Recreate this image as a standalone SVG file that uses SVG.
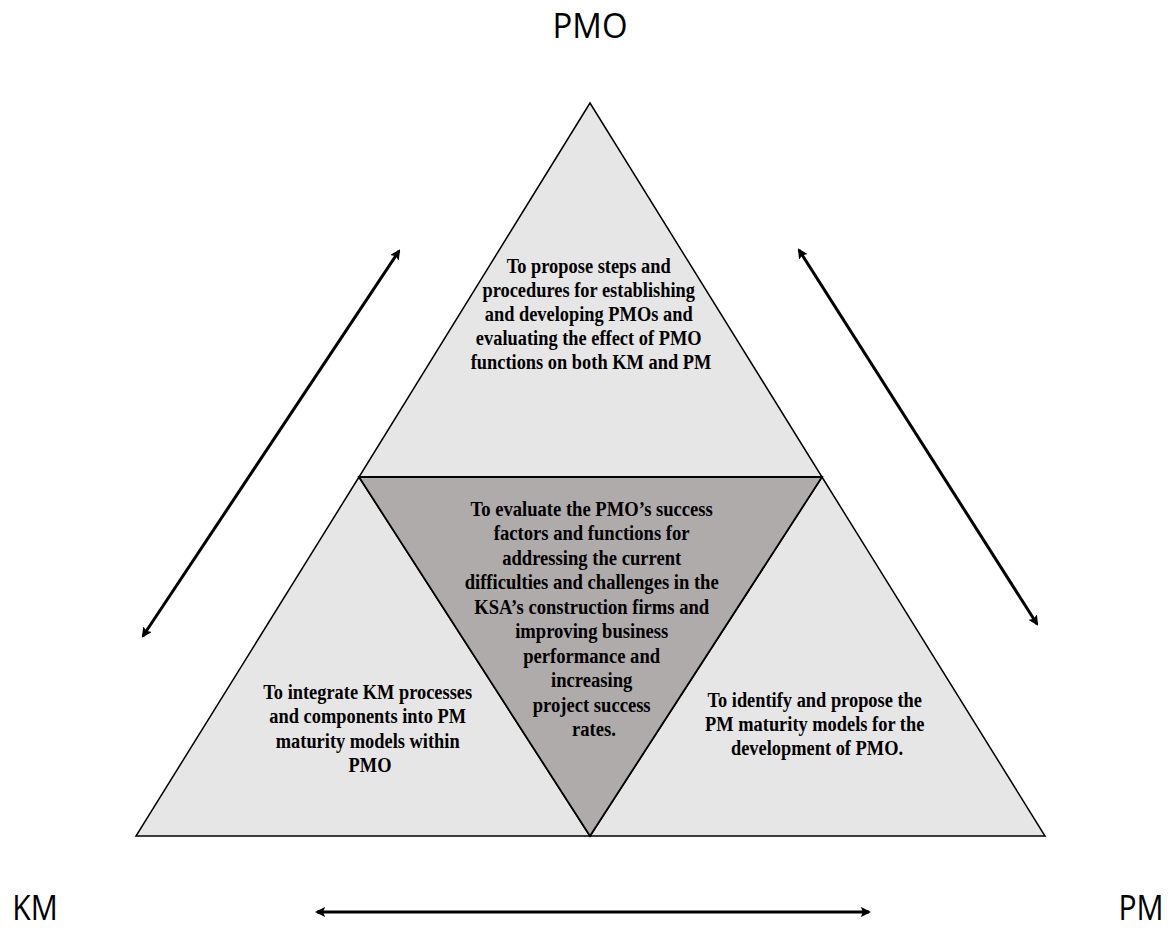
<svg xmlns="http://www.w3.org/2000/svg" width="1169" height="929" viewBox="0 0 1169 929">
  <style>
    .tri { fill: #e7e6e6; stroke: #000; stroke-width: 1.5; stroke-linejoin: miter; }
    .core { fill: #afabab; stroke: #000; stroke-width: 1.8; }
    .body { font-family: "Liberation Serif", "Times New Roman", serif; font-weight: bold; font-size: 20px; fill: #000; text-anchor: middle; }
    .corner { font-family: "Open Sans", "Liberation Sans", sans-serif; font-size: 35px; fill: #000; text-anchor: middle; }
    .link { stroke: #000; stroke-width: 3; fill: none; marker-start: url(#head); marker-end: url(#head); }
  </style>
  <defs>
    <marker id="head" viewBox="0 0 10 10" refX="8" refY="5" markerWidth="3.4" markerHeight="3.4" orient="auto-start-reverse" markerUnits="strokeWidth">
      <path d="M0,0 L10,5 L0,10 L2,5 Z" fill="#000"/>
    </marker>
  </defs>
  <rect width="1169" height="929" fill="#fff"/>

  <!-- corner labels (narrowed slightly) -->
  <text class="corner" transform="translate(590,38) scale(0.94,1)" x="0" y="0">PMO</text>
  <text class="corner" transform="translate(35,920) scale(0.86,1)" x="0" y="0">KM</text>
  <text class="corner" transform="translate(1141,920) scale(0.86,1)" x="0" y="0">PM</text>

  <!-- top triangle: PMO -->
  <g id="node-pmo">
    <polygon class="tri" points="590,103 359,477 822,477"/>
    <text class="body" transform="translate(591,0) scale(0.92,1)">
      <tspan x="0" y="273">To propose steps and</tspan>
      <tspan x="0" y="297">procedures for establishing</tspan>
      <tspan x="0" y="321">and developing PMOs and</tspan>
      <tspan x="0" y="345">evaluating the effect of PMO</tspan>
      <tspan x="0" y="369">functions on both KM and PM</tspan>
    </text>
  </g>

  <!-- bottom-left triangle: KM -->
  <g id="node-km">
    <polygon class="tri" points="359,477 136,836 590,836"/>
    <text class="body" transform="translate(370,0) scale(0.92,1)">
      <tspan x="0" y="699">To integrate KM processes</tspan>
      <tspan x="0" y="723">and components into PM</tspan>
      <tspan x="0" y="748">maturity models within</tspan>
      <tspan x="0" y="772">PMO</tspan>
    </text>
  </g>

  <!-- bottom-right triangle: PM -->
  <g id="node-pm">
    <polygon class="tri" points="822,477 590,836 1045,836"/>
    <text class="body" transform="translate(817,0) scale(0.92,1)">
      <tspan x="0" y="707">To identify and propose the</tspan>
      <tspan x="0" y="731">PM maturity models for the</tspan>
      <tspan x="0" y="755">development of PMO.</tspan>
    </text>
  </g>

  <!-- central inverted triangle -->
  <g id="node-core">
    <polygon class="core" points="359,477 822,477 590,836"/>
    <text class="body" transform="translate(594,0) scale(0.93,1)">
      <tspan x="0" y="516">To evaluate the PMO’s success</tspan>
      <tspan x="0" y="540">factors and functions for</tspan>
      <tspan x="0" y="565">addressing the current</tspan>
      <tspan x="0" y="589">difficulties and challenges in the</tspan>
      <tspan x="0" y="614">KSA’s construction firms and</tspan>
      <tspan x="0" y="638">improving business</tspan>
      <tspan x="0" y="663">performance and</tspan>
      <tspan x="0" y="687">increasing</tspan>
      <tspan x="0" y="712">project success</tspan>
      <tspan x="0" y="736">rates.</tspan>
    </text>
  </g>

  <!-- two-way relations between the three areas -->
  <g id="connectors">
    <line class="link" x1="143" y1="636" x2="399" y2="251"/>
    <line class="link" x1="799" y1="250" x2="1037" y2="624"/>
    <line class="link" x1="317" y1="912" x2="869" y2="912"/>
  </g>
</svg>
